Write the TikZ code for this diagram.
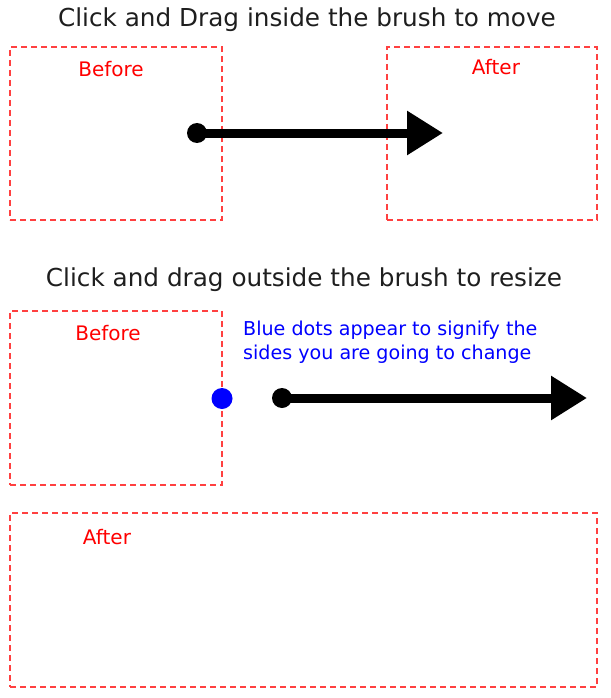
\documentclass[tikz,border=0pt]{standalone}
\usepackage{fontspec}
\setmainfont{DejaVu Sans}
\usetikzlibrary{arrows.meta}
\definecolor{boxred}{RGB}{255,64,64}
\definecolor{txtred}{RGB}{255,0,0}
\definecolor{txtblue}{RGB}{0,0,255}
\definecolor{titlegray}{RGB}{30,30,30}
\tikzset{
  brushbox/.style={draw=boxred, line width=1.8pt, dash pattern=on 6pt off 4pt, rectangle, inner sep=0pt, outer sep=0pt},
  titletext/.style={font=\fontsize{24.7}{29}\selectfont, text=titlegray, inner sep=0pt},
  redlabel/.style={font=\fontsize{20}{24}\selectfont, text=txtred, inner sep=0pt},
  bluetext/.style={font=\fontsize{19.1}{24.5}\selectfont, text=txtblue, inner sep=0pt, align=left},
  startdot/.style={circle, fill=black, minimum size=20pt, inner sep=0pt},
  bluedot/.style={circle, fill=txtblue, minimum size=21pt, inner sep=0pt},
  dragarrow/.style={line width=9pt, -{Triangle[length=36pt,width=42pt]}}
}
\begin{document}
\begin{tikzpicture}[x=1pt,y=-1pt]
\useasboundingbox (0,0) rectangle (610,698);
% top section
\node[titletext] (t1) at (307,20) {Click and Drag inside the brush to move};
\node[brushbox, minimum width=212pt, minimum height=173pt] (b1) at (116,133.5) {};
\node[brushbox, minimum width=210pt, minimum height=173pt] (a1) at (492,133.5) {};
\node[redlabel] (lb1) at (111,69) {Before};
\node[redlabel] (la1) at (496,67) {After};
\node[startdot] (d1) at (197,133) {};
\coordinate (e1) at (443,133);
\draw[dragarrow] (d1.center) -- (e1);
% bottom section
\node[titletext] (t2) at (304,280) {Click and drag outside the brush to resize};
\node[brushbox, minimum width=212pt, minimum height=174pt] (b2) at (116,398) {};
\node[redlabel] (lb2) at (108,333) {Before};
\node[bluetext, anchor=base west] (bt) at (243,359.5) {Blue dots appear to signify the\\sides you are going to change};
\node[bluedot] (bd) at (222,398.5) {};
\node[startdot] (d2) at (282,398) {};
\coordinate (e2) at (587,398);
\draw[dragarrow] (d2.center) -- (e2);
\node[brushbox, minimum width=587pt, minimum height=174pt] (a2) at (303.5,600) {};
\node[redlabel] (la2) at (107,537) {After};
\end{tikzpicture}
\end{document}
